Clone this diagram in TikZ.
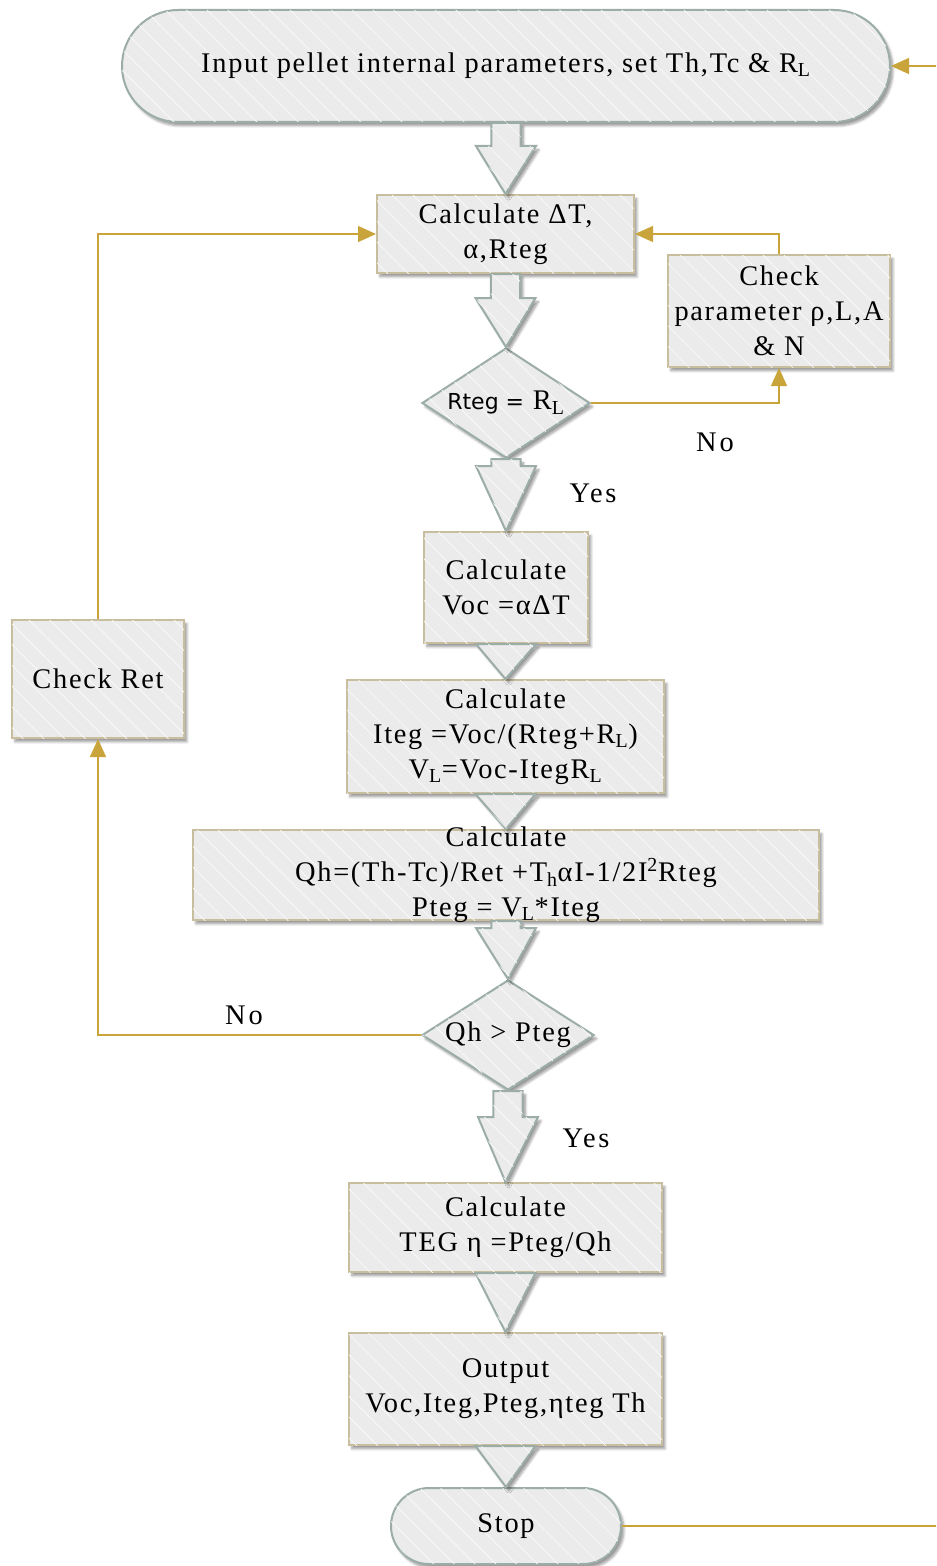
\documentclass[tikz,border=0pt]{standalone}
\usepackage{fontspec}
\setmainfont{Liberation Serif}[LetterSpace=6]
\newfontfamily\dejavu{DejaVu Sans}
\usetikzlibrary{shapes.geometric,shadows.blur,patterns.meta,arrows.meta,calc}
\definecolor{boxfill}{HTML}{EBEBEB}
\definecolor{tan}{HTML}{C8BD9C}
\definecolor{sage}{HTML}{9BADA6}
\definecolor{gold}{HTML}{C9A43B}
\newcommand{\mainsize}{\fontsize{21.3pt}{26.2pt}\selectfont}
\tikzset{
  shade3d/.style={blur shadow={shadow xshift=2.2pt, shadow yshift=-2.8pt, shadow blur steps=6, shadow opacity=40}},
  stripes/.style={postaction={pattern={Lines[angle=-45,distance=11pt,line width=0.5pt]}, pattern color=white!80!boxfill}},
  base/.style={fill=boxfill, line width=1.5pt, shade3d, stripes, align=center, inner sep=0pt,
    font=\mainsize},
  proc/.style={base, draw=tan, rectangle},
  term/.style={base, draw=sage, rectangle, rounded corners=#1},
  decision/.style={base, draw=sage, diamond},
  bar/.style={fill=boxfill, draw=sage, line width=1.5pt, line join=miter, shade3d, stripes},
  conn/.style={draw=gold, line width=1.1pt, -{Triangle[length=13.5pt,width=12pt]}},
  lbl/.style={font=\mainsize\addfontfeatures{LetterSpace=10}, inner sep=0pt},
  txt/.style={align=center, inner sep=0pt, font=\mainsize},
}
\newcommand{\blockarrow}[3]{%
  \draw[bar] let \p1=(#1.south), \p2=(#2.north) in
    (\x1-10.9pt,\y1) -- (\x1+10.9pt,\y1) -- (\x1+10.9pt,\y1-#3) -- (\x1+22.5pt,\y1-#3)
    -- (\x2,\y2) -- (\x1-22.5pt,\y1-#3) -- (\x1-10.9pt,\y1-#3) -- cycle;}
\newcommand{\triarrow}[2]{%
  \draw[bar] let \p1=(#1.south), \p2=(#2.north) in
    (\x1-22.5pt,\y1) -- (\x1+22.5pt,\y1) -- (\x2,\y2) -- cycle;}
\begin{document}
\begin{tikzpicture}[x=0.75pt,y=-0.75pt]
\useasboundingbox (0,0) rectangle (936,1566);
\clip (0,0) rectangle (936,1566);

% nodes
\node[term=42pt, minimum width=576pt, minimum height=84pt] (start) at (506,66)
  {Input pellet internal parameters, set Th,Tc \& R\textsubscript{L}};
\node[proc, minimum width=192.75pt, minimum height=58.5pt] (c1) at (505.5,234)
  {Calculate ΔT,\\α,Rteg};
\node[proc, minimum width=166.5pt, minimum height=84pt] (chk) at (779,311)
  {Check\\parameter ρ,L,A\\\& N};
\node[decision, minimum width=126pt, minimum height=82.5pt] (d1) at (506,403)
  {\makebox[0pt]{\strut{\dejavu\fontsize{16.5pt}{26pt}\selectfont Rteg =} R\textsubscript{L}}};
\node[proc, minimum width=123pt, minimum height=83.25pt] (voc) at (506,587.5)
  {Calculate\\Voc =αΔT};
\node[proc, minimum width=237.75pt, minimum height=84.75pt] (iteg) at (505.5,736.5)
  {Calculate\\Iteg =Voc/(Rteg+R\textsubscript{L})\\V\textsubscript{L}=Voc-ItegR\textsubscript{L}};
\node[proc, minimum width=469.5pt, minimum height=67.5pt] (qh) at (506,875) {};
\node[txt] (qht) at (qh.center)
  {Calculate\\Qh=(Th-Tc)/Ret +T\textsubscript{h}αI-1/2I\textsuperscript{2}Rteg\\Pteg = V\textsubscript{L}*Iteg};
\node[decision, minimum width=129pt, minimum height=82.5pt] (d2) at (508,1035)
  {\makebox[0pt]{\strut Qh > Pteg}};
\node[proc, minimum width=129pt, minimum height=88.5pt] (ret) at (98,679)
  {Check Ret};
\node[proc, minimum width=234.75pt, minimum height=66.75pt] (eta) at (505.5,1227.5)
  {Calculate\\TEG η =Pteg/Qh};
\node[proc, minimum width=234.75pt, minimum height=84pt] (out) at (505.5,1389)
  {Output\\Voc,Iteg,Pteg,ηteg Th};
\node[term=28.5pt, minimum width=172.5pt, minimum height=57pt] (stop) at (506,1526)
  {Stop};

% block arrows
\blockarrow{start}{c1}{17.25pt}
\blockarrow{c1}{d1}{18pt}
\blockarrow{d1}{voc}{5.25pt}
\triarrow{voc}{iteg}
\triarrow{iteg}{qh}
\blockarrow{qh}{d2}{5.25pt}
\blockarrow{d2}{eta}{19.5pt}
\triarrow{eta}{out}
\triarrow{out}{stop}

% labels
\node[lbl] (no1) at (715,442) {No};
\node[lbl] (yes1) at (593,493) {Yes};
\node[lbl] (no2) at (244,1015) {No};
\node[lbl] (yes2) at (586,1138) {Yes};

% connectors
\coordinate (rb) at (945,1526);
\draw[conn] (d1.east) -| (chk.south);
\draw[conn] (chk.north) |- (c1.east);
\draw[conn] (d2.west) -| (ret.south);
\draw[conn] (ret.north) |- (c1.west);
\draw[conn] (stop.east) -- (rb) |- (start.east);
\end{tikzpicture}
\end{document}
